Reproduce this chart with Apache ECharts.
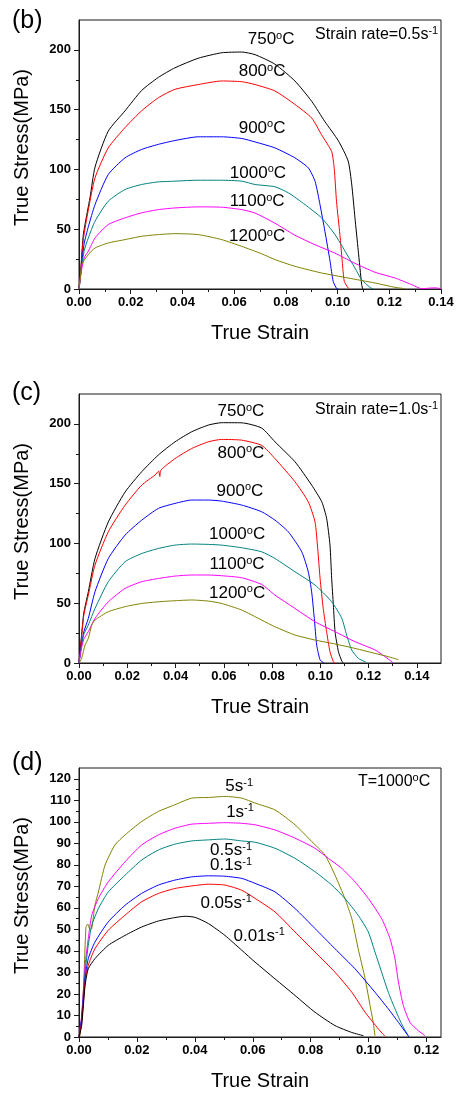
<!DOCTYPE html>
<html><head><meta charset="utf-8">
<script src="https://cdn.jsdelivr.net/npm/echarts@6/dist/echarts.min.js"></script>
<style>html,body{margin:0;padding:0;background:#fff}#c{width:461px;height:1102px}</style>
</head><body><div id="c"></div>
<script>
// ---------- data (strain, stress) ----------
const b750 = [[0,0],[0.0008,20],[0.0017,46],[0.0043,77],[0.0062,102],[0.0113,132],[0.0178,149],[0.0242,166],[0.0307,177],[0.0371,185],[0.0461,193],[0.0552,197.6],[0.0629,198.2],[0.0681,196],[0.0758,188],[0.0835,174],[0.090,157],[0.0951,140],[0.1003,124],[0.1041,107],[0.1055,87],[0.1067,60],[0.108,32],[0.1093,4],[0.1097,0]];
const b800 = [[0,0],[0.0008,18],[0.0017,42],[0.0036,66],[0.0062,93],[0.0113,118],[0.0178,135],[0.0242,149],[0.0307,160],[0.0371,167],[0.0461,171],[0.0552,174],[0.0629,173.4],[0.0681,171],[0.0758,165.6],[0.0835,154.4],[0.090,143],[0.0938,129],[0.0977,115],[0.0987,101],[0.0996,73],[0.1009,45.5],[0.1018,23],[0.1026,6.4],[0.1041,0.8],[0.1045,0]];
const b900 = [[0,0],[0.001,20],[0.002,38],[0.0036,52],[0.0062,70.6],[0.0113,95.7],[0.0178,109.7],[0.0242,116.7],[0.0307,121],[0.0371,124.2],[0.0461,127.3],[0.0552,127.3],[0.0629,125.9],[0.0681,123],[0.0758,118],[0.0835,109.7],[0.0887,101.3],[0.0913,90],[0.0932,70.6],[0.0951,48.3],[0.0971,23.2],[0.0983,6.4],[0.0996,0.5],[0.1003,0]];
const b1000 = [[0,0],[0.001,18],[0.002,32],[0.0036,42.7],[0.0062,56.7],[0.0113,73.4],[0.0178,83.2],[0.0242,87.4],[0.0307,89.6],[0.0371,90.2],[0.0461,91],[0.0552,91],[0.0629,90.2],[0.0681,87.4],[0.0758,85.5],[0.081,80.4],[0.0874,70.6],[0.0938,59.5],[0.099,45.5],[0.1029,31.6],[0.1067,17.6],[0.1093,7.8],[0.1125,1.4],[0.1138,0]];
const b1100 = [[0,0],[0.001,16],[0.002,26],[0.0036,31.6],[0.0062,42.7],[0.0113,53.9],[0.0178,59.5],[0.0242,63.7],[0.0307,66.4],[0.0371,67.8],[0.0461,68.7],[0.0552,68.4],[0.0629,66.4],[0.0681,63.5],[0.0758,55],[0.0835,45],[0.0913,37],[0.099,30],[0.1067,21.5],[0.1145,14],[0.1222,9.2],[0.1287,3.6],[0.1325,0.3],[0.1377,1],[0.14,0.3]];
const b1200 = [[0,0],[0.0005,8],[0.001,20.4],[0.0036,28.7],[0.0062,34.3],[0.0113,38.5],[0.0178,41.3],[0.0242,44.1],[0.0307,45.5],[0.0371,46.3],[0.0461,45.5],[0.0552,41.3],[0.0629,35.7],[0.0706,29.5],[0.0758,24.6],[0.0835,19],[0.0938,13.4],[0.1041,9.2],[0.1145,5],[0.1222,1.4],[0.126,0.3]];

const c750 = [[0,0],[0.001,22],[0.002,42],[0.00386,59.6],[0.00663,87.4],[0.01215,118],[0.0191,143],[0.026,160],[0.0329,174],[0.0398,185],[0.0467,193.4],[0.0536,199],[0.0591,201],[0.0674,200.9],[0.0757,196.5],[0.0812,185],[0.0895,168.3],[0.0964,148.8],[0.1006,134.8],[0.1026,121],[0.104,98.6],[0.1047,70.7],[0.1054,48.5],[0.1061,26.2],[0.1075,9.4],[0.1089,1.7],[0.1095,0]];
const c800 = [[0,0],[0.001,20],[0.002,40],[0.00386,56.8],[0.00663,81.9],[0.01215,109.8],[0.0191,132],[0.026,148.8],[0.0315,157.2],[0.033,160.5],[0.0335,156],[0.034,161.5],[0.0398,171],[0.0467,179.4],[0.0536,185],[0.0591,187],[0.0674,186.4],[0.0757,182],[0.0812,171],[0.0895,151.6],[0.095,134.8],[0.0978,118],[0.0989,95.8],[0.0999,70.7],[0.1012,45.6],[0.1026,26.2],[0.104,9.4],[0.1054,1.1],[0.106,0]];
const c900 = [[0,0],[0.001,15],[0.002,26],[0.00386,37.3],[0.00663,59.6],[0.01215,87.4],[0.0191,107],[0.026,119.5],[0.0329,129.3],[0.0398,133.5],[0.0467,136.3],[0.0536,136.3],[0.0591,135.4],[0.0674,132.1],[0.0757,126.5],[0.0812,119.5],[0.0867,109.8],[0.0923,93],[0.095,76.3],[0.0964,59.6],[0.0975,37.3],[0.0985,15],[0.0999,2.5],[0.1012,0.5],[0.1015,0]];
const c1000 = [[0,0],[0.001,14],[0.002,24],[0.00386,31.8],[0.00663,45.6],[0.01215,68],[0.0191,84.7],[0.026,91.6],[0.0329,95.8],[0.0398,98.6],[0.0467,99.5],[0.0536,99.2],[0.0591,98.6],[0.0674,96.4],[0.0757,93],[0.0812,87.4],[0.0895,76.3],[0.0978,65.2],[0.1047,51.2],[0.1089,37.3],[0.1109,23.4],[0.113,10.9],[0.1158,3.8],[0.1185,1.1],[0.1192,0]];
const c1100 = [[0,0],[0.001,12],[0.002,20],[0.00386,26.2],[0.00663,37.3],[0.01215,51.2],[0.0191,62.4],[0.026,68],[0.0329,70.7],[0.0398,72.7],[0.0467,73.6],[0.0536,73.6],[0.0591,73],[0.0674,71.3],[0.0757,65.7],[0.0812,56.8],[0.0895,45.6],[0.0978,34.5],[0.1061,26.2],[0.1144,17.8],[0.1227,10.9],[0.1268,5.3],[0.1296,1.1],[0.1302,0]];
const c1200 = [[0,0],[0.0011,3.9],[0.0025,15],[0.00386,20.6],[0.0053,31.8],[0.00663,35.9],[0.01215,42.9],[0.0191,47.1],[0.026,49.8],[0.0329,51.2],[0.0398,52.1],[0.0467,52.7],[0.0536,51.8],[0.0591,49.8],[0.0674,44.3],[0.0757,35.9],[0.0812,30.3],[0.0895,23.4],[0.0978,19.2],[0.1061,15.9],[0.1144,12.2],[0.1227,8],[0.1282,5.3],[0.1323,2.8]];

const d5 = [[0,0],[0.00035,0.6],[0.0015,21],[0.0024,51],[0.003,52.5],[0.0038,50],[0.0044,50.4],[0.0055,61.2],[0.0067,67.4],[0.009,79.9],[0.0124,89.2],[0.0159,93.9],[0.0216,100.1],[0.0274,104.8],[0.0331,107.9],[0.0389,111],[0.0447,111.3],[0.0504,111.8],[0.0562,111],[0.0608,108.7],[0.0677,105.5],[0.0746,98.6],[0.0804,90.8],[0.0849,84.6],[0.0884,75.2],[0.0918,64.4],[0.0942,55],[0.0964,41],[0.0988,27.1],[0.1005,14.6],[0.1016,6.8],[0.1022,0.6]];
const d1 = [[0,0],[0.00092,9.9],[0.0021,33.3],[0.0032,45.7],[0.0044,56.6],[0.0067,64.4],[0.0101,72.1],[0.0159,81.4],[0.0216,89.2],[0.0274,93.9],[0.0331,97],[0.0389,98.9],[0.0447,99.3],[0.0504,99.6],[0.0562,99.3],[0.0608,98.6],[0.0677,96.2],[0.0746,92.4],[0.0815,87.7],[0.0861,83],[0.0907,78.4],[0.0953,72.1],[0.0999,64.4],[0.1045,55],[0.1074,45.7],[0.1091,36.4],[0.1103,25.5],[0.112,14.6],[0.1143,6.8],[0.1172,2.9],[0.1195,0.6]];
const d05 = [[0,0],[0.00092,8.4],[0.0021,30.1],[0.0032,42.6],[0.0044,51.9],[0.0067,59.7],[0.0101,67.4],[0.0159,75.2],[0.0216,82.2],[0.0274,86.9],[0.0331,89.6],[0.0389,91.1],[0.0447,91.6],[0.0504,92],[0.0562,91.1],[0.0608,90.5],[0.0677,87.7],[0.0746,83],[0.0815,76.8],[0.0873,70.6],[0.0918,64.4],[0.0964,56.6],[0.0999,48.8],[0.1022,39.5],[0.1045,30.1],[0.1068,20.8],[0.1091,13.1],[0.1114,6.1],[0.1137,0.6]];
const d01 = [[0,0],[0.00092,8.4],[0.0021,27],[0.0032,36.4],[0.0055,44.1],[0.0101,53.5],[0.0159,61.2],[0.0216,66.7],[0.0274,70.6],[0.0331,72.9],[0.0389,74.4],[0.0447,74.9],[0.0504,74.7],[0.0562,73.7],[0.0608,71.4],[0.0677,67.4],[0.0746,59.7],[0.0815,50.4],[0.0884,41],[0.0953,31.7],[0.1022,20.8],[0.1068,13.1],[0.1103,6.8],[0.1132,1.4],[0.114,0]];
const d005 = [[0,0],[0.00092,6.8],[0.0021,25.5],[0.0032,33.3],[0.0055,41],[0.0101,49.6],[0.0159,56.6],[0.0216,62.8],[0.0274,66.7],[0.0331,69],[0.0389,70.2],[0.0447,71],[0.0504,70.6],[0.0562,68.2],[0.0608,64.4],[0.0677,58.1],[0.0746,48.8],[0.0815,39.5],[0.0884,30.1],[0.0942,20.8],[0.0988,11.5],[0.1034,3.7],[0.1057,0.3]];
const d001 = [[0,0],[0.00092,5.3],[0.0021,23.9],[0.0032,31.7],[0.0055,36.4],[0.0101,42.6],[0.0159,47.2],[0.0216,51.1],[0.0274,53.9],[0.0331,55.5],[0.0366,56.1],[0.0401,55.6],[0.0447,52.7],[0.0504,47.2],[0.0562,40.3],[0.0608,34.8],[0.0677,27],[0.0746,19.3],[0.0815,11.5],[0.0884,5.3],[0.0942,2.1],[0.0982,0.6]];

// ---------- ticks ----------
const bcXTicks = [0,0.02,0.04,0.06,0.08,0.10,0.12,0.14];
const bcXMinor = [0.01,0.03,0.05,0.07,0.09,0.11,0.13];
const dXTicks = [0,0.02,0.04,0.06,0.08,0.10,0.12];
const dXMinor = [0.01,0.03,0.05,0.07,0.09,0.11];
const bcYTicks = [0,50,100,150,200];
const bcYMinor = [25,75,125,175];
const dYTicks = [0,10,20,30,40,50,60,70,80,90,100,110,120];
const dYMinor = [5,15,25,35,45,55,65,75,85,95,105,115];

// ---------- annotation labels ----------
const tempNames = ['750','800','900','1000','1100','1200'];
const bLabelPos = [[0.0743,208.5],[0.0708,181.7],[0.0708,134.8],[0.0692,97.1],[0.0689,73.1],[0.0689,43.8]];
const cLabelPos = [[0.0671,210.3],[0.0671,175.6],[0.0667,143.5],[0.0655,107.3],[0.0655,82.2],[0.0655,58.5]];
const rateNames = ['5','1','0.5','0.1','0.05','0.01'];
const dLabelPos = [[0.0553,116.3],[0.0556,104.5],[0.0525,86.6],[0.0525,79.6],[0.0508,62.2],[0.0622,46.9]];
const noteTexts = ['{m|Strain rate=0.5s}{t|-1}', '{m|Strain rate=1.0s}{t|-1}', '{m|T=1000}{t|o}{m|C}'];
const notePos = [[0.1151,212.7],[0.1233,211.8],[0.1088,118.9]];

const colors6 = ['#000000','#ff0000','#0000ff','#008080','#ff00ff','#808000'];
const dColors = ['#808000','#ff00ff','#008080','#0000ff','#ff0000','#000000'];

const FONT = 'Liberation Sans';
const AX = '#1a1a1a';
const grids = [
  {left:79, top:20, width:362, height:269},
  {left:79, top:394, width:362, height:269},
  {left:79, top:768, width:362, height:269}
].map(g => Object.assign(g, {show:true, borderColor:AX, borderWidth:1, backgroundColor:'transparent'}));

function xAx(gi, max, majors, minors) {
  return [{
    type:'value', gridIndex:gi, min:0, max:max, position:'bottom',
    name:'True Strain', nameLocation:'middle', nameGap:34,
    nameTextStyle:{fontFamily:FONT, fontSize:20, color:'#000'},
    axisLine:{show:true, lineStyle:{color:AX, width:1}},
    axisTick:{show:true, length:5, customValues:majors, lineStyle:{color:AX}},
    axisLabel:{show:true, customValues:majors, formatter:v=>v.toFixed(2), fontFamily:FONT, fontWeight:'bold', fontSize:13, color:'#000', margin:7},
    splitLine:{show:false}
  },{
    type:'value', gridIndex:gi, min:0, max:max, position:'bottom',
    axisLine:{show:false}, axisLabel:{show:false}, splitLine:{show:false},
    axisTick:{show:true, length:3, customValues:minors, lineStyle:{color:AX}}
  }];
}
function yAx(gi, max, majors, minors) {
  return [{
    type:'value', gridIndex:gi, min:0, max:max, position:'left',
    name:'True Stress(MPa)', nameLocation:'middle', nameGap:47,
    nameTextStyle:{fontFamily:FONT, fontSize:20, color:'#000', padding:[0,0,0,14]},
    axisLine:{show:true, lineStyle:{color:AX, width:1}},
    axisTick:{show:true, length:5, customValues:majors, lineStyle:{color:AX}},
    axisLabel:{show:true, customValues:majors, fontFamily:FONT, fontWeight:'bold', fontSize:13, color:'#000', margin:8},
    splitLine:{show:false}
  },{
    type:'value', gridIndex:gi, min:0, max:max, position:'left',
    axisLine:{show:false}, axisLabel:{show:false}, splitLine:{show:false},
    axisTick:{show:true, length:3, customValues:minors, lineStyle:{color:AX}}
  }];
}

const xAxis = [...xAx(0,0.14,bcXTicks,bcXMinor), ...xAx(1,0.15,bcXTicks,bcXMinor), ...xAx(2,0.125,dXTicks,dXMinor)];
const yAxis = [...yAx(0,225,bcYTicks,bcYMinor), ...yAx(1,225,bcYTicks,bcYMinor), ...yAx(2,125,dYTicks,dYMinor)];

function line(data, color, panel) {
  return {type:'line', data:data, xAxisIndex:panel*2, yAxisIndex:panel*2, symbol:'none',
    smooth:0.2,
    lineStyle:{color:color, width:1}, animation:false, silent:true, z:3};
}
const rich = {
  n:{fontFamily:FONT, fontSize:17, fill:'#000', color:'#000'},
  s:{fontFamily:FONT, fontSize:11, fill:'#000', color:'#000', verticalAlign:'top', padding:[0,0,8,0]},
  m:{fontFamily:FONT, fontSize:16, fill:'#000', color:'#000'},
  t:{fontFamily:FONT, fontSize:11, fill:'#000', color:'#000', verticalAlign:'top', padding:[0,0,7,0]}
};
const series = [];
[b750,b800,b900,b1000,b1100,b1200].forEach((d,i)=>series.push(line(d,colors6[i],0)));
[c750,c800,c900,c1000,c1100,c1200].forEach((d,i)=>series.push(line(d,colors6[i],1)));
[d5,d1,d05,d01,d005,d001].forEach((d,i)=>series.push(line(d,dColors[i],2)));

const chart = echarts.init(document.getElementById('c'), null, {renderer:'canvas'});
chart.setOption({
  backgroundColor:'#ffffff',
  animation:false,
  grid:grids, xAxis:xAxis, yAxis:yAxis, series:series
});

// annotation texts placed through the chart's own coordinate conversion
const ann = [];
function addLabels(pos, texts, panel) {
  pos.forEach((p,i)=>{
    const px = chart.convertToPixel({xAxisIndex:panel*2, yAxisIndex:panel*2}, p);
    ann.push({type:'text', x:px[0], y:px[1], z:50, silent:true,
      style:{text:texts[i], rich:rich, align:'center', verticalAlign:'middle', fill:'#000'}});
  });
}
addLabels(bLabelPos, tempNames.map(t=>'{n|'+t+'}{s|o}{n|C}'), 0);
addLabels(cLabelPos, tempNames.map(t=>'{n|'+t+'}{s|o}{n|C}'), 1);
addLabels(dLabelPos, rateNames.map(r=>'{n|'+r+'s}{s|-1}'), 2);
notePos.forEach((p,i)=>addLabels([p], [noteTexts[i]], i));
ann.push({type:'text', left:12, top:9, style:{text:'(b)', font:'25px "Liberation Sans"', fill:'#000'}});
ann.push({type:'text', left:12, top:381, style:{text:'(c)', font:'25px "Liberation Sans"', fill:'#000'}});
ann.push({type:'text', left:12, top:751, style:{text:'(d)', font:'25px "Liberation Sans"', fill:'#000'}});
chart.setOption({graphic:ann});
</script></body></html>
